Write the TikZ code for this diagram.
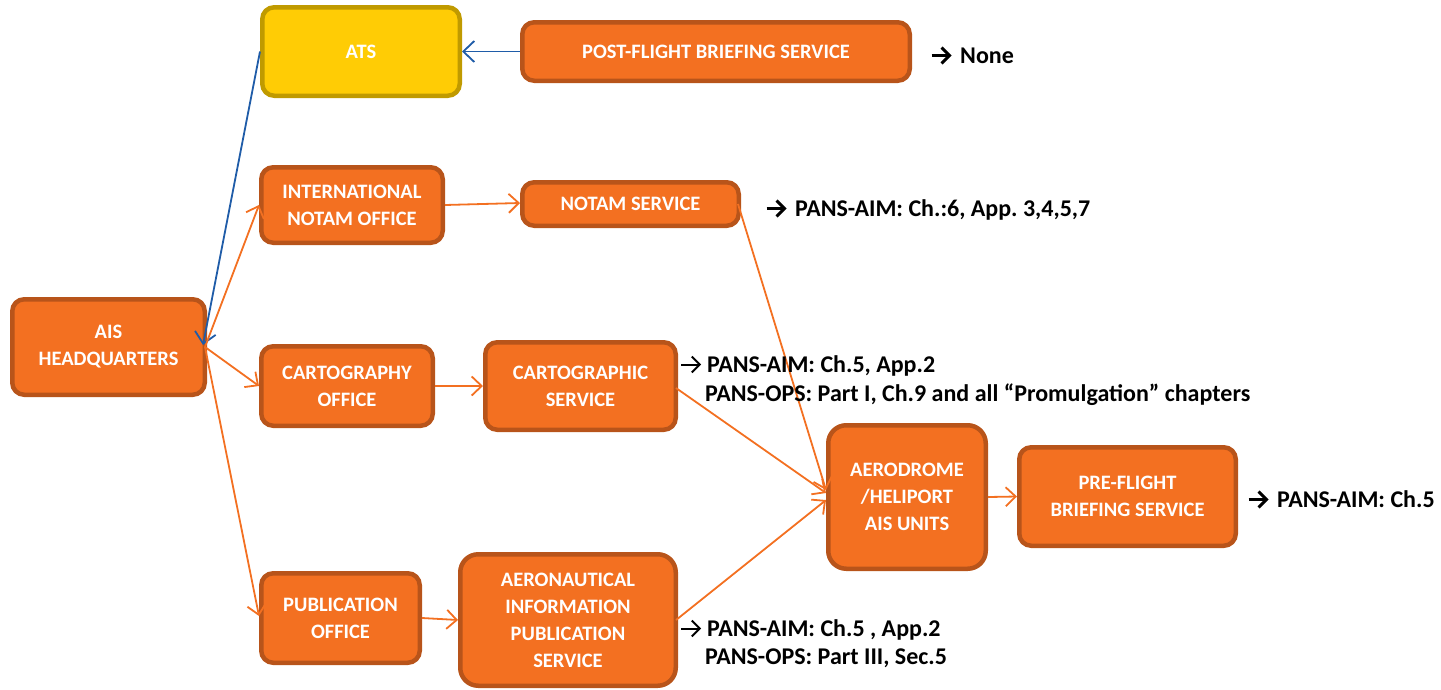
\documentclass[tikz,border=0pt]{standalone}
\usepackage{fontspec}
\setmainfont{Carlito}
\usetikzlibrary{arrows.meta}
\definecolor{orfill}{HTML}{F37021}
\definecolor{ordraw}{HTML}{B8541A}
\definecolor{yefill}{HTML}{FFCC05}
\definecolor{yedraw}{HTML}{C09A00}
\definecolor{blueline}{HTML}{1F5CA8}
\definecolor{orline}{HTML}{F37021}
\newcommand\myarrow[1]{\tikz[baseline=0pt]\draw[line width=#1, line cap=butt, -{Straight Barb[length=8pt,width=16pt,line width=#1]}] (0pt,7.5pt) -- (20pt,7.5pt);}
\tikzset{
  box/.style={draw=ordraw, fill=orfill, line width=4.5pt, rounded corners=12pt,
    text=white, font=\fontsize{20.5}{27}\selectfont\bfseries, align=center, inner sep=0pt},
  ybox/.style={box, draw=yedraw, fill=yefill},
  oarr/.style={draw=orline, line width=1.8pt, -{Straight Barb[length=10pt,width=19pt,line width=1.8pt]}},
  barr/.style={draw=blueline, line width=1.8pt, -{Straight Barb[length=11pt,width=21pt,line width=1.8pt]}},
  note/.style={anchor=base west, inner sep=0pt, font=\fontsize{24}{29}\selectfont\bfseries, text=black}
}
\frenchspacing
\begin{document}
\begin{tikzpicture}[x=1pt,y=-1pt]
\useasboundingbox (0,0) rectangle (1441,689);
\node[ybox, minimum width=197.5pt, minimum height=88.5pt] (ats) at (361,51.5) {ATS};
\node[box, minimum width=387.5pt, minimum height=58.5pt] (post) at (716,51.5) {POST-FLIGHT BRIEFING SERVICE};
\node[box, minimum width=181.5pt, minimum height=75.5pt] (intl) at (352,205) {INTERNATIONAL\\NOTAM OFFICE};
\node[box, minimum width=216.5pt, minimum height=43.5pt] (notam) at (630.5,204) {NOTAM SERVICE};
\node[box, minimum width=192.5pt, minimum height=95.5pt] (hq) at (108.5,347) {AIS\\HEADQUARTERS};
\node[box, minimum width=171.5pt, minimum height=79.5pt] (carto) at (347,386) {CARTOGRAPHY\\OFFICE};
\node[box, minimum width=190.5pt, minimum height=87.5pt] (cartsvc) at (580.5,386) {CARTOGRAPHIC\\SERVICE};
\node[box, minimum width=157.5pt, minimum height=143.5pt, rounded corners=18pt] (aero) at (907,497) {AERODROME\\/HELIPORT\\AIS UNITS};
\node[box, minimum width=216.5pt, minimum height=98.5pt] (pre) at (1127.5,496.5) {PRE-FLIGHT\\BRIEFING SERVICE};
\node[box, minimum width=158.5pt, minimum height=89.5pt] (pub) at (340.5,618) {PUBLICATION\\OFFICE};
\node[box, minimum width=215.5pt, minimum height=131.5pt, rounded corners=18pt] (aip) at (568,620) {AERONAUTICAL\\INFORMATION\\PUBLICATION\\SERVICE};

\draw[barr] (post.west) -- (ats.east);
\draw[barr] (ats.west) -- ([xshift=-4pt,yshift=2pt]hq.east);
\draw[oarr] ([xshift=-2pt]hq.east) -- (intl.west);
\draw[oarr] ([xshift=-2pt]hq.east) -- (carto.west);
\draw[oarr] ([xshift=-2pt]hq.east) -- ([yshift=2pt]pub.west);
\draw[oarr] (intl.east) -- ([yshift=1pt]notam.west);
\draw[oarr] (carto.east) -- (cartsvc.west);
\draw[oarr] (pub.east) -- (aip.west);
\draw[oarr] ([xshift=-3pt]notam.east) -- ([yshift=7pt]aero.west);
\draw[oarr] ([xshift=-2pt,yshift=-2pt]cartsvc.east) -- ([yshift=4pt]aero.west);
\draw[oarr] ([xshift=-2pt]aip.east) -- ([yshift=-3pt]aero.west);
\draw[oarr] (aero.east) -- (pre.west);

\node[note] (n1) at (930,63) {\myarrow{3pt}\hspace{7pt}None};
\node[note] (n2) at (765,216) {\myarrow{3pt}\hspace{7pt}PANS-AIM: Ch.:6, App. 3,4,5,7};
\node[note] (n3) at (680,372) {\myarrow{2pt}\hspace{5pt}PANS-AIM: Ch.5, App.2};
\node[note] (n4) at (705,401) {PANS-OPS: Part I, Ch.9 and all “Promulgation” chapters};
\node[note] (n5) at (1247,507) {\myarrow{3pt}\hspace{7pt}PANS-AIM: Ch.5};
\node[note] (n6) at (680,636) {\myarrow{2pt}\hspace{5pt}PANS-AIM: Ch.5 , App.2};
\node[note] (n7) at (705,664) {PANS-OPS: Part III, Sec.5};
\end{tikzpicture}
\end{document}
